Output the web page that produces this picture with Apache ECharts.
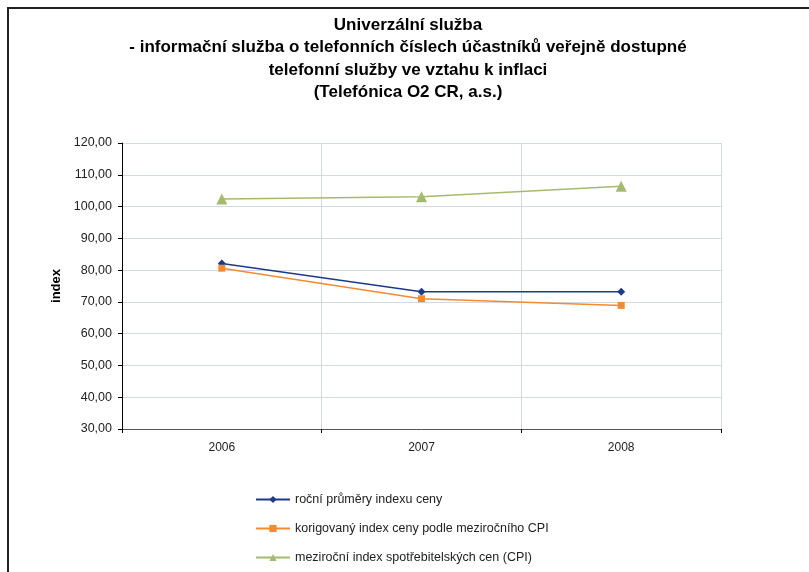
<!DOCTYPE html>
<html>
<head>
<meta charset="utf-8">
<script src="https://cdn.jsdelivr.net/npm/echarts@6/dist/echarts.min.js"></script>
<style>
  html, body { margin: 0; padding: 0; background: #fff; }
  #chart { width: 809px; height: 572px; }
</style>
</head>
<body>
<div id="chart"></div>
<script>
// data
const years = ['2006', '2007', '2008']
const rocniPrumery = [82.1, 73.2, 73.2]
const korigovany = [80.6, 71.0, 68.9]
const cpi = [102.4, 103.1, 106.4]

const titleLines = [
  'Univerzální služba',
  '- informační služba o telefonních číslech účastníků veřejně dostupné',
  'telefonní služby ve vztahu k inflaci',
  '(Telefónica O2 CR, a.s.)'
]
const seriesNames = [
  'roční průměry indexu ceny',
  'korigovaný index ceny podle meziročního CPI',
  'meziroční index spotřebitelských cen (CPI)'
]

const font = '"Liberation Sans", Arial, sans-serif'
const chart = echarts.init(document.getElementById('chart'), null, { renderer: 'canvas' })

const option = {
  backgroundColor: '#fff',
  animation: false,
  textStyle: { fontFamily: font },
  title: {
    text: titleLines.join('\n'),
    left: 408,
    textAlign: 'center',
    top: 14,
    padding: 0,
    textStyle: { fontFamily: font, fontSize: 17, fontWeight: 'bold', color: '#000', lineHeight: 22.4 }
  },
  graphic: [{
    type: 'rect',
    shape: { x: 8, y: 8, width: 830, height: 600 },
    style: { fill: 'none', stroke: '#222', lineWidth: 2 },
    silent: true,
    z: 100
  }],
  legend: {
    orient: 'vertical',
    left: 255,
    top: 492,
    padding: 0,
    itemWidth: 34,
    itemHeight: 9,
    itemGap: 14,
    textStyle: { fontFamily: font, fontSize: 12.5, color: '#222', lineHeight: 15 },
    data: seriesNames
  },
  grid: { left: 122, right: 88, top: 143, bottom: 143, containLabel: false },
  xAxis: {
    type: 'category',
    data: years,
    boundaryGap: true,
    axisLine: { lineStyle: { color: '#555', width: 1 } },
    axisTick: { show: true, length: 4, lineStyle: { color: '#000' } },
    axisLabel: { fontSize: 12, color: '#222', margin: 13 },
    splitLine: { show: true, lineStyle: { color: '#d3dae6', width: 1 } }
  },
  yAxis: {
    type: 'value',
    name: 'index',
    nameLocation: 'middle',
    nameGap: 58,
    nameRotate: 90,
    nameTextStyle: { fontFamily: font, fontSize: 13, fontWeight: 'bold', color: '#000' },
    min: 30,
    max: 120,
    interval: 10,
    axisLine: { show: true, lineStyle: { color: '#000', width: 1 } },
    axisTick: { show: true, length: 4, lineStyle: { color: '#000' } },
    axisLabel: {
      fontSize: 12.5,
      color: '#222',
      margin: 10,
      formatter: v => v.toFixed(2).replace('.', ',')
    },
    splitLine: { show: true, lineStyle: { color: '#d3dae6', width: 1 } }
  },
  series: [
    {
      name: seriesNames[0],
      type: 'line',
      data: rocniPrumery,
      color: '#1b3a8c',
      symbol: 'diamond',
      symbolSize: 8,
      lineStyle: { width: 1.5 }
    },
    {
      name: seriesNames[1],
      type: 'line',
      data: korigovany,
      color: '#f68a2e',
      symbol: 'rect',
      symbolSize: 7,
      lineStyle: { width: 1.5 }
    },
    {
      name: seriesNames[2],
      type: 'line',
      data: cpi,
      color: '#a3bb6c',
      symbol: 'triangle',
      symbolSize: 11,
      lineStyle: { width: 1.5 }
    }
  ]
}

chart.setOption(option)
</script>
</body>
</html>
